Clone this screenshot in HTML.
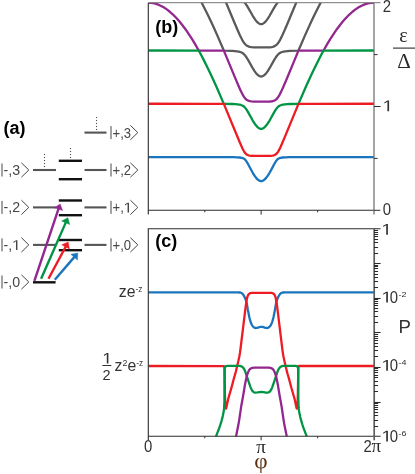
<!DOCTYPE html>
<html><head><meta charset="utf-8"><title>figure</title>
<style>html,body{margin:0;padding:0;background:#fff;}svg{display:block;will-change:transform}</style></head>
<body>
<svg width="415" height="474" viewBox="0 0 415 474">
<rect width="415" height="474" fill="#fff"/>
<defs>
<clipPath id="cb"><rect x="148.3" y="2.7" width="225.7" height="207.60000000000002"/></clipPath>
<clipPath id="cc"><rect x="148.3" y="228.8" width="225.7" height="207.5"/></clipPath>
</defs>
<g clip-path="url(#cb)">
<path d="M148.30,-1.30 L238.88,-1.29 L240.54,-0.70 L241.89,0.02 L243.24,1.04 L244.45,2.25 L245.65,3.78 L247.01,5.81 L248.36,8.09 L252.87,16.04 L254.23,18.20 L255.58,20.13 L257.09,21.91 L258.44,23.10 L259.19,23.57 L259.80,23.84 L260.55,24.04 L261.15,24.09 L261.75,24.04 L262.50,23.84 L263.11,23.57 L263.86,23.10 L265.21,21.91 L266.72,20.13 L268.07,18.20 L269.43,16.04 L273.94,8.09 L275.29,5.81 L276.65,3.78 L277.85,2.25 L279.06,1.04 L280.41,0.02 L281.76,-0.70 L283.42,-1.29 L374.00,-1.30" fill="none" stroke="#5a5a5c" stroke-width="2.3" stroke-linejoin="round"/>
<path d="M148.30,-1.30 L224.44,-1.30 L234.67,23.23 L238.13,31.31 L239.78,34.98 L241.14,37.79 L242.34,40.07 L243.55,42.07 L244.75,43.70 L245.80,44.80 L247.01,45.72 L248.21,46.35 L249.71,46.85 L251.52,47.19 L253.63,47.38 L256.34,47.44 L267.47,47.42 L269.73,47.31 L271.53,47.08 L272.59,46.85 L273.49,46.58 L274.99,45.90 L275.75,45.41 L276.35,44.93 L277.55,43.70 L278.75,42.07 L280.11,39.80 L281.61,36.88 L283.27,33.34 L287.18,24.30 L297.86,-1.30 L374.00,-1.30" fill="none" stroke="#5a5a5c" stroke-width="2.3" stroke-linejoin="round"/>
<path d="M148.30,-1.30 L199.46,-1.30 L201.57,2.55 L204.88,8.96 L207.88,15.04 L210.89,21.34 L213.90,27.85 L217.06,34.89 L223.83,50.58 L232.26,50.87 L234.82,51.04 L236.92,51.28 L238.73,51.60 L240.24,52.00 L241.59,52.55 L242.79,53.25 L243.70,53.97 L244.60,54.86 L245.50,55.96 L246.40,57.24 L248.06,59.93 L253.02,68.71 L254.53,71.07 L255.88,72.93 L257.24,74.47 L257.99,75.15 L258.59,75.60 L259.34,76.04 L259.95,76.29 L260.55,76.44 L261.15,76.49 L261.75,76.44 L262.35,76.29 L262.96,76.04 L263.71,75.60 L264.31,75.15 L265.06,74.47 L266.42,72.93 L267.77,71.07 L269.28,68.71 L274.24,59.93 L275.90,57.24 L276.80,55.96 L277.70,54.86 L278.60,53.97 L279.51,53.25 L280.71,52.55 L282.06,52.00 L283.57,51.60 L285.38,51.28 L287.48,51.04 L290.04,50.87 L298.47,50.58 L305.24,34.89 L308.40,27.85 L311.41,21.34 L314.42,15.04 L317.42,8.96 L320.73,2.55 L322.84,-1.30 L374.00,-1.30" fill="none" stroke="#5a5a5c" stroke-width="2.3" stroke-linejoin="round"/>
<path d="M148.30,2.70 L149.80,2.74 L151.31,2.88 L152.81,3.10 L154.47,3.45 L155.97,3.86 L157.48,4.36 L158.98,4.94 L160.64,5.69 L163.65,7.32 L166.81,9.40 L169.82,11.74 L172.98,14.56 L176.14,17.75 L179.30,21.30 L182.46,25.20 L185.62,29.45 L188.78,34.04 L192.09,39.19 L195.25,44.43 L198.71,50.50 L223.83,50.62 L235.57,78.85 L238.58,85.95 L240.24,89.68 L241.59,92.56 L242.79,94.89 L243.85,96.68 L244.90,98.15 L245.95,99.27 L247.01,100.06 L248.36,100.72 L249.87,101.15 L251.67,101.43 L253.93,101.59 L256.79,101.63 L267.62,101.61 L270.03,101.49 L271.83,101.27 L273.64,100.83 L274.99,100.24 L276.20,99.40 L277.40,98.15 L278.60,96.44 L279.81,94.33 L281.16,91.62 L282.82,88.00 L286.28,79.93 L298.47,50.62 L323.59,50.50 L327.05,44.43 L330.21,39.19 L333.52,34.04 L336.68,29.45 L339.84,25.20 L343.00,21.30 L346.16,17.75 L349.32,14.56 L352.48,11.74 L355.49,9.40 L358.65,7.32 L361.66,5.69 L363.32,4.94 L364.82,4.36 L366.33,3.86 L367.83,3.45 L369.49,3.10 L370.99,2.88 L372.50,2.74 L374.00,2.70" fill="none" stroke="#92278f" stroke-width="2.3" stroke-linejoin="round"/>
<path d="M148.30,50.49 L198.71,50.53 L201.57,55.82 L204.57,61.64 L207.58,67.70 L210.59,73.98 L213.60,80.47 L216.76,87.50 L223.83,103.85 L232.41,104.02 L235.27,104.16 L237.53,104.35 L239.33,104.61 L240.84,104.96 L242.19,105.46 L243.24,106.04 L244.15,106.73 L244.90,107.47 L245.65,108.38 L246.55,109.66 L248.06,112.16 L252.87,120.80 L254.38,123.20 L255.73,125.09 L257.24,126.81 L257.99,127.49 L258.59,127.94 L259.34,128.37 L259.95,128.62 L260.55,128.76 L261.15,128.81 L261.75,128.76 L262.35,128.62 L262.96,128.37 L263.71,127.94 L264.31,127.49 L265.06,126.81 L266.57,125.09 L267.92,123.20 L269.43,120.80 L274.24,112.16 L275.75,109.66 L276.65,108.38 L277.40,107.47 L278.15,106.73 L279.06,106.04 L280.11,105.46 L281.46,104.96 L282.97,104.61 L284.77,104.35 L287.03,104.16 L289.89,104.02 L298.47,103.85 L305.54,87.50 L308.70,80.47 L311.71,73.98 L314.72,67.70 L317.73,61.64 L320.73,55.82 L323.59,50.53 L374.00,50.49" fill="none" stroke="#009444" stroke-width="2.3" stroke-linejoin="round"/>
<path d="M148.30,103.76 L208.49,103.78 L221.58,103.83 L223.68,103.85 L223.83,103.89 L239.63,142.05 L242.49,148.43 L243.55,150.51 L244.45,152.05 L245.35,153.29 L246.25,154.18 L247.16,154.78 L248.36,155.26 L249.87,155.58 L251.67,155.77 L254.08,155.88 L257.39,155.91 L267.92,155.89 L270.33,155.79 L272.28,155.60 L273.94,155.26 L275.14,154.78 L276.20,154.06 L277.10,153.11 L278.15,151.57 L279.21,149.65 L280.41,147.16 L282.06,143.45 L285.38,135.61 L298.47,103.89 L298.62,103.85 L300.72,103.83 L313.81,103.78 L374.00,103.76" fill="none" stroke="#ed1c24" stroke-width="2.3" stroke-linejoin="round"/>
<path d="M148.30,157.03 L208.04,157.04 L227.45,157.10 L233.01,157.17 L236.92,157.30 L239.63,157.50 L241.59,157.80 L242.94,158.20 L244.00,158.73 L245.05,159.59 L245.95,160.67 L246.71,161.78 L247.61,163.32 L251.22,170.08 L253.02,173.28 L254.68,175.89 L256.18,177.91 L257.54,179.35 L258.74,180.28 L259.34,180.62 L259.95,180.86 L260.55,181.01 L261.15,181.06 L261.75,181.01 L262.35,180.86 L262.96,180.62 L263.56,180.28 L264.76,179.35 L266.12,177.91 L267.62,175.89 L269.28,173.28 L271.08,170.08 L274.69,163.32 L275.59,161.78 L276.35,160.67 L277.25,159.59 L278.30,158.73 L279.36,158.20 L280.71,157.80 L282.67,157.50 L285.38,157.30 L289.29,157.17 L294.85,157.10 L314.26,157.04 L374.00,157.03" fill="none" stroke="#1b75bc" stroke-width="2.3" stroke-linejoin="round"/>
</g>
<g clip-path="url(#cc)">
<path d="M148.30,292.40 L238.05,292.40 L239.56,292.50 L240.77,292.72 L241.48,293.04 L242.30,293.60 L242.81,294.10 L243.27,294.70 L243.94,295.81 L244.73,297.37 L245.44,298.98 L245.97,300.40 L246.47,302.08 L246.85,303.77 L247.80,309.46 L249.34,317.33 L250.22,320.70 L251.15,323.33 L251.68,324.47 L252.15,325.32 L252.71,326.15 L253.22,326.75 L253.77,327.25 L254.39,327.62 L255.11,327.92 L255.60,328.00 L256.34,327.96 L257.59,327.78 L259.47,327.11 L260.70,326.86 L261.45,326.80 L262.19,326.87 L263.42,327.13 L264.83,327.68 L265.31,327.80 L266.55,327.97 L267.29,328.00 L268.03,327.80 L268.91,327.33 L269.47,326.87 L270.15,326.07 L270.94,324.82 L271.68,323.24 L272.38,321.32 L273.01,319.17 L273.54,317.00 L274.14,314.05 L275.06,309.12 L276.02,303.43 L276.42,301.75 L276.95,300.07 L277.49,298.66 L278.11,297.28 L278.91,295.73 L279.59,294.61 L280.05,294.03 L280.56,293.55 L281.41,293.00 L282.12,292.69 L283.33,292.49 L284.85,292.40 L374.50,292.40" fill="none" stroke="#1b75bc" stroke-width="2.3" stroke-linejoin="round"/>
<path d="M148.30,366.00 L223.98,366.03 L224.22,366.45 L224.38,367.04 L224.53,369.96 L224.93,393.80 L225.16,401.45 L225.34,404.38 L225.56,406.78 L225.79,408.21 L225.91,408.52 L226.02,408.59 L226.26,407.94 L226.92,405.07 L227.88,400.42 L228.33,398.47 L231.54,387.43 L233.80,378.72 L235.23,373.92 L235.93,371.27 L238.47,360.56 L239.40,356.16 L239.94,352.96 L240.48,348.99 L245.79,305.56 L246.43,301.36 L246.90,298.87 L247.24,297.38 L247.77,295.77 L248.24,294.87 L248.71,294.23 L249.06,293.88 L249.86,293.38 L250.59,293.08 L251.34,292.91 L256.08,292.80 L267.59,292.80 L271.58,292.93 L272.08,293.04 L272.82,293.32 L273.46,293.67 L273.82,293.95 L274.17,294.32 L274.63,294.97 L274.98,295.65 L275.23,296.32 L275.59,297.50 L275.97,299.24 L276.51,302.21 L276.96,305.18 L278.12,314.36 L282.30,348.86 L282.87,353.07 L283.42,356.27 L284.36,360.67 L286.83,371.14 L287.54,373.79 L288.96,378.59 L291.29,387.54 L294.43,398.34 L294.90,400.29 L296.36,407.20 L296.64,408.27 L296.80,408.60 L296.91,408.49 L297.02,408.15 L297.22,406.92 L297.45,404.55 L297.63,401.62 L297.87,393.94 L298.28,369.85 L298.44,366.91 L298.63,366.32 L298.88,366.00 L374.50,366.00" fill="none" stroke="#ed1c24" stroke-width="2.3" stroke-linejoin="round"/>
<path d="M214.00,442.00 L216.50,435.19 L219.18,428.18 L220.40,424.64 L221.55,420.81 L222.34,417.91 L222.90,415.47 L223.56,412.04 L223.88,410.06 L224.08,408.32 L224.42,401.58 L224.51,392.83 L224.60,371.33 L224.68,369.30 L224.96,367.35 L225.20,366.85 L225.52,366.41 L225.87,366.17 L226.31,366.04 L227.62,365.90 L239.86,365.93 L240.61,366.10 L241.54,366.44 L242.21,366.83 L242.96,367.45 L243.43,368.01 L244.00,368.87 L244.59,369.99 L245.09,371.12 L246.58,375.65 L250.24,386.31 L250.86,387.94 L251.49,389.30 L252.23,390.68 L252.83,391.44 L253.37,391.90 L254.04,392.32 L254.53,392.52 L255.01,392.60 L257.75,392.47 L259.47,392.10 L261.46,391.90 L263.44,392.12 L265.16,392.49 L267.90,392.60 L268.38,392.49 L268.86,392.27 L269.52,391.83 L270.04,391.37 L270.49,390.80 L271.01,389.90 L271.79,388.29 L272.26,387.15 L276.18,375.78 L277.33,372.18 L277.94,370.56 L278.60,369.22 L279.28,368.13 L279.92,367.38 L280.69,366.76 L281.36,366.39 L282.06,366.14 L282.80,365.95 L283.30,365.90 L295.30,365.90 L296.35,366.01 L296.82,366.14 L297.19,366.32 L297.52,366.71 L297.87,367.46 L298.06,368.65 L298.18,370.18 L298.37,400.94 L298.66,407.44 L298.78,408.93 L299.01,410.66 L299.72,414.60 L300.25,417.04 L301.08,420.19 L302.28,424.27 L303.57,428.05 L306.25,435.06 L308.80,442.00" fill="none" stroke="#009444" stroke-width="2.3" stroke-linejoin="round"/>
<path d="M234.90,442.00 L237.89,427.30 L238.68,423.12 L239.40,418.68 L241.26,406.07 L243.09,395.98 L244.89,385.13 L246.01,379.49 L247.11,375.11 L247.81,372.96 L248.61,371.13 L249.40,369.77 L249.87,369.20 L250.20,368.90 L251.25,368.26 L251.98,367.96 L252.48,367.83 L254.45,367.65 L256.21,367.60 L267.22,367.60 L268.98,367.69 L270.45,367.86 L271.67,368.32 L272.32,368.70 L272.85,369.12 L273.33,369.67 L273.75,370.32 L274.67,372.17 L275.44,374.27 L276.25,377.18 L276.93,380.10 L277.71,384.03 L279.73,396.11 L281.52,405.95 L283.42,418.81 L284.14,423.25 L284.93,427.42 L287.90,442.00" fill="none" stroke="#92278f" stroke-width="2.3" stroke-linejoin="round"/>
</g>
<path d="M148.3,2.7 V214.60000000000002 M148.3,210.3 H374.0" stroke="#2b2b2b" stroke-width="1.1" fill="none"/>
<path d="M148.3,2.7 H380.5" stroke="#757575" stroke-width="1" fill="none"/>
<path d="M374.0,2.7 V214.60000000000002" stroke="#757575" stroke-width="1.3" fill="none"/>
<path d="M374.0,106.50 h6.6" stroke="#2b2b2b" stroke-width="1" fill="none"/>
<path d="M374.0,210.30 h6.3" stroke="#2b2b2b" stroke-width="1" fill="none"/>
<path d="M374.0,54.60 h3.6" stroke="#2b2b2b" stroke-width="1" fill="none"/>
<path d="M374.0,158.40 h3.6" stroke="#2b2b2b" stroke-width="1" fill="none"/>
<path d="M261.1,210.3 v4.3" stroke="#2b2b2b" stroke-width="1" fill="none"/>
<path d="M204.80,210.3 v2" stroke="#2b2b2b" stroke-width="1" fill="none"/>
<path d="M317.65,210.3 v2" stroke="#2b2b2b" stroke-width="1" fill="none"/>
<path d="M148.3,440.3 V228.8 H380.6" stroke="#2b2b2b" stroke-width="1.1" fill="none"/>
<path d="M148.3,436.3 H380.6" stroke="#2b2b2b" stroke-width="1.1" fill="none"/>
<path d="M374.2,228.8 V440.3" stroke="#5e5e5e" stroke-width="1.7" fill="none"/>
<path d="M374.0,253.50 h4.1" stroke="#2b2b2b" stroke-width="1" fill="none"/>
<path d="M374.0,247.50 h4.1" stroke="#2b2b2b" stroke-width="1" fill="none"/>
<path d="M374.0,242.50 h4.1" stroke="#2b2b2b" stroke-width="1" fill="none"/>
<path d="M374.0,239.50 h4.1" stroke="#2b2b2b" stroke-width="1" fill="none"/>
<path d="M374.0,236.50 h4.1" stroke="#2b2b2b" stroke-width="1" fill="none"/>
<path d="M374.0,234.50 h4.1" stroke="#2b2b2b" stroke-width="1" fill="none"/>
<path d="M374.0,232.50 h4.1" stroke="#2b2b2b" stroke-width="1" fill="none"/>
<path d="M374.0,230.50 h4.1" stroke="#2b2b2b" stroke-width="1" fill="none"/>
<path d="M374.0,263.50 h6.6" stroke="#2b2b2b" stroke-width="1.1" fill="none"/>
<path d="M374.0,287.50 h4.1" stroke="#2b2b2b" stroke-width="1" fill="none"/>
<path d="M374.0,281.50 h4.1" stroke="#2b2b2b" stroke-width="1" fill="none"/>
<path d="M374.0,277.50 h4.1" stroke="#2b2b2b" stroke-width="1" fill="none"/>
<path d="M374.0,274.50 h4.1" stroke="#2b2b2b" stroke-width="1" fill="none"/>
<path d="M374.0,271.50 h4.1" stroke="#2b2b2b" stroke-width="1" fill="none"/>
<path d="M374.0,268.50 h4.1" stroke="#2b2b2b" stroke-width="1" fill="none"/>
<path d="M374.0,266.50 h4.1" stroke="#2b2b2b" stroke-width="1" fill="none"/>
<path d="M374.0,265.50 h4.1" stroke="#2b2b2b" stroke-width="1" fill="none"/>
<path d="M374.0,298.50 h6.6" stroke="#2b2b2b" stroke-width="1.1" fill="none"/>
<path d="M374.0,322.50 h4.1" stroke="#2b2b2b" stroke-width="1" fill="none"/>
<path d="M374.0,316.50 h4.1" stroke="#2b2b2b" stroke-width="1" fill="none"/>
<path d="M374.0,311.50 h4.1" stroke="#2b2b2b" stroke-width="1" fill="none"/>
<path d="M374.0,308.50 h4.1" stroke="#2b2b2b" stroke-width="1" fill="none"/>
<path d="M374.0,305.50 h4.1" stroke="#2b2b2b" stroke-width="1" fill="none"/>
<path d="M374.0,303.50 h4.1" stroke="#2b2b2b" stroke-width="1" fill="none"/>
<path d="M374.0,301.50 h4.1" stroke="#2b2b2b" stroke-width="1" fill="none"/>
<path d="M374.0,299.50 h4.1" stroke="#2b2b2b" stroke-width="1" fill="none"/>
<path d="M374.0,332.50 h6.6" stroke="#2b2b2b" stroke-width="1.1" fill="none"/>
<path d="M374.0,356.50 h4.1" stroke="#2b2b2b" stroke-width="1" fill="none"/>
<path d="M374.0,350.50 h4.1" stroke="#2b2b2b" stroke-width="1" fill="none"/>
<path d="M374.0,346.50 h4.1" stroke="#2b2b2b" stroke-width="1" fill="none"/>
<path d="M374.0,343.50 h4.1" stroke="#2b2b2b" stroke-width="1" fill="none"/>
<path d="M374.0,340.50 h4.1" stroke="#2b2b2b" stroke-width="1" fill="none"/>
<path d="M374.0,338.50 h4.1" stroke="#2b2b2b" stroke-width="1" fill="none"/>
<path d="M374.0,336.50 h4.1" stroke="#2b2b2b" stroke-width="1" fill="none"/>
<path d="M374.0,334.50 h4.1" stroke="#2b2b2b" stroke-width="1" fill="none"/>
<path d="M374.0,367.50 h6.6" stroke="#2b2b2b" stroke-width="1.1" fill="none"/>
<path d="M374.0,391.50 h4.1" stroke="#2b2b2b" stroke-width="1" fill="none"/>
<path d="M374.0,385.50 h4.1" stroke="#2b2b2b" stroke-width="1" fill="none"/>
<path d="M374.0,381.50 h4.1" stroke="#2b2b2b" stroke-width="1" fill="none"/>
<path d="M374.0,377.50 h4.1" stroke="#2b2b2b" stroke-width="1" fill="none"/>
<path d="M374.0,375.50 h4.1" stroke="#2b2b2b" stroke-width="1" fill="none"/>
<path d="M374.0,372.50 h4.1" stroke="#2b2b2b" stroke-width="1" fill="none"/>
<path d="M374.0,370.50 h4.1" stroke="#2b2b2b" stroke-width="1" fill="none"/>
<path d="M374.0,368.50 h4.1" stroke="#2b2b2b" stroke-width="1" fill="none"/>
<path d="M374.0,402.50 h6.6" stroke="#2b2b2b" stroke-width="1.1" fill="none"/>
<path d="M374.0,426.50 h4.1" stroke="#2b2b2b" stroke-width="1" fill="none"/>
<path d="M374.0,420.50 h4.1" stroke="#2b2b2b" stroke-width="1" fill="none"/>
<path d="M374.0,415.50 h4.1" stroke="#2b2b2b" stroke-width="1" fill="none"/>
<path d="M374.0,412.50 h4.1" stroke="#2b2b2b" stroke-width="1" fill="none"/>
<path d="M374.0,409.50 h4.1" stroke="#2b2b2b" stroke-width="1" fill="none"/>
<path d="M374.0,407.50 h4.1" stroke="#2b2b2b" stroke-width="1" fill="none"/>
<path d="M374.0,405.50 h4.1" stroke="#2b2b2b" stroke-width="1" fill="none"/>
<path d="M374.0,403.50 h4.1" stroke="#2b2b2b" stroke-width="1" fill="none"/>
<path d="M261.1,436.3 v4" stroke="#2b2b2b" stroke-width="1" fill="none"/>
<path d="M204.80,436.3 v2" stroke="#2b2b2b" stroke-width="1" fill="none"/>
<path d="M317.65,436.3 v2" stroke="#2b2b2b" stroke-width="1" fill="none"/>
<text transform="translate(382.80 11.50) scale(0.95 1.0)" font-family="Liberation Sans, sans-serif" font-size="15.7" fill="#333333">2</text>
<path d="M387.41,111.30 L387.41,101.82 L384.41,103.56 L384.41,102.25 L387.55,100.50 L389.11,100.50 L389.11,111.30Z" fill="#333333"/>
<text transform="translate(382.70 214.70) scale(0.95 1.0)" font-family="Liberation Sans, sans-serif" font-size="15.7" fill="#333333">0</text>
<path d="M386.21,234.70 L386.21,225.22 L383.21,226.96 L383.21,225.65 L386.35,223.90 L387.91,223.90 L387.91,234.70Z" fill="#333333"/>
<path d="M386.21,302.50 L386.21,293.02 L383.21,294.76 L383.21,293.45 L386.35,291.70 L387.91,291.70 L387.91,302.50Z" fill="#333333"/>
<text transform="translate(389.70 302.50) scale(0.95 1.0)" font-family="Liberation Sans, sans-serif" font-size="15.7" fill="#333333">0</text>
<text transform="translate(398.50 297.20) scale(1.12 1.0)" font-family="Liberation Sans, sans-serif" font-size="8.0" fill="#333333">-2</text>
<path d="M386.21,370.70 L386.21,361.22 L383.21,362.96 L383.21,361.65 L386.35,359.90 L387.91,359.90 L387.91,370.70Z" fill="#333333"/>
<text transform="translate(389.70 370.70) scale(0.95 1.0)" font-family="Liberation Sans, sans-serif" font-size="15.7" fill="#333333">0</text>
<text transform="translate(398.50 365.40) scale(1.12 1.0)" font-family="Liberation Sans, sans-serif" font-size="8.0" fill="#333333">-4</text>
<path d="M386.21,441.50 L386.21,432.02 L383.21,433.76 L383.21,432.45 L386.35,430.70 L387.91,430.70 L387.91,441.50Z" fill="#333333"/>
<text transform="translate(389.70 441.50) scale(0.95 1.0)" font-family="Liberation Sans, sans-serif" font-size="15.7" fill="#333333">0</text>
<text transform="translate(398.50 436.20) scale(1.12 1.0)" font-family="Liberation Sans, sans-serif" font-size="8.0" fill="#333333">-6</text>
<text x="398.40" y="332.70" font-family="Liberation Sans, sans-serif" font-size="18.6" fill="#333333">P</text>
<text transform="translate(143.90 451.90) scale(0.95 1.0)" font-family="Liberation Sans, sans-serif" font-size="15.7" fill="#333333">0</text>
<text transform="translate(363.50 452.00) scale(0.95 1.0)" font-family="Liberation Sans, sans-serif" font-size="15.7" fill="#333333">2</text>
<text transform="translate(371.40 452.30) scale(1.06 1.0)" font-family="Liberation Serif, serif" font-size="18" fill="#2a2a2a">π</text>
<text transform="translate(256.30 452.50) scale(1.06 1.0)" font-family="Liberation Serif, serif" font-size="18" fill="#2a2a2a">π</text>
<text transform="translate(254.30 467.60) scale(1.13 1.0)" font-family="Liberation Serif, serif" font-size="20.5" fill="#5b2d0e">φ</text>
<text x="399.30" y="42.00" font-family="Liberation Serif, serif" font-size="20" fill="#2a2a2a">ε</text>
<path d="M393,48.1 H416" stroke="#2a2a2a" stroke-width="1.1"/>
<text transform="translate(397.20 67.50) scale(1.03 1.0)" font-family="Liberation Serif, serif" font-size="20.5" fill="#2a2a2a">Δ</text>
<text x="3.60" y="133.60" font-family="Liberation Sans, sans-serif" font-size="18" fill="#000" font-weight="bold">(a)</text>
<text x="155.30" y="32.90" font-family="Liberation Sans, sans-serif" font-size="18" fill="#000" font-weight="bold">(b)</text>
<text x="155.30" y="247.20" font-family="Liberation Sans, sans-serif" font-size="18" fill="#000" font-weight="bold">(c)</text>
<text x="118.80" y="296.70" font-family="Liberation Sans, sans-serif" font-size="15.8" fill="#333333">ze<tspan dy="-5" font-size="8.3">-z</tspan></text>
<text x="114.60" y="370.70" font-family="Liberation Sans, sans-serif" font-size="15.8" fill="#333333">z<tspan dy="-4.4" font-size="8.8">2</tspan><tspan dy="4.4" font-size="15.8">e</tspan><tspan dy="-5" font-size="8.3">-z</tspan></text>
<path d="M106.79,363.50 L106.79,354.32 L103.95,356.00 L103.95,354.74 L106.92,353.04 L108.40,353.04 L108.40,363.50Z" fill="#333333"/>
<text transform="translate(102.60 380.10) scale(0.97 1.0)" font-family="Liberation Sans, sans-serif" font-size="15.0" fill="#333333">2</text>
<path d="M102.4,365.5 H111.3" stroke="#333333" stroke-width="1"/>
<path d="M33,244.9 H56" stroke="#555" stroke-width="2.1"/>
<path d="M33,207.4 H56" stroke="#555" stroke-width="2.1"/>
<path d="M33,170.0 H56" stroke="#555" stroke-width="2.1"/>
<path d="M84.5,244.9 H106.5" stroke="#555" stroke-width="2.1"/>
<path d="M84.5,207.4 H106.5" stroke="#555" stroke-width="2.1"/>
<path d="M84.5,170.0 H106.5" stroke="#555" stroke-width="2.1"/>
<path d="M84.5,132.6 H106.5" stroke="#555" stroke-width="2.1"/>
<path d="M33,282.3 H55.6" stroke="#111" stroke-width="2.4"/>
<path d="M58.8,250.2 H82" stroke="#111" stroke-width="2.4"/>
<path d="M58.8,240.0 H82" stroke="#111" stroke-width="2.4"/>
<path d="M58.8,215.2 H82" stroke="#111" stroke-width="2.4"/>
<path d="M58.8,200.5 H82" stroke="#111" stroke-width="2.4"/>
<path d="M58.8,179.2 H82" stroke="#111" stroke-width="2.4"/>
<path d="M58.8,160.8 H82" stroke="#111" stroke-width="2.4"/>
<rect x="43.95" y="153.95" width="1.1" height="1.1" fill="#4a4a4a"/>
<rect x="43.95" y="156.95" width="1.1" height="1.1" fill="#4a4a4a"/>
<rect x="43.95" y="159.95" width="1.1" height="1.1" fill="#4a4a4a"/>
<rect x="43.95" y="162.95" width="1.1" height="1.1" fill="#4a4a4a"/>
<rect x="43.95" y="165.95" width="1.1" height="1.1" fill="#4a4a4a"/>
<rect x="69.95" y="147.95" width="1.1" height="1.1" fill="#4a4a4a"/>
<rect x="69.95" y="150.95" width="1.1" height="1.1" fill="#4a4a4a"/>
<rect x="69.95" y="153.95" width="1.1" height="1.1" fill="#4a4a4a"/>
<rect x="69.95" y="156.95" width="1.1" height="1.1" fill="#4a4a4a"/>
<rect x="95.95" y="116.95" width="1.1" height="1.1" fill="#4a4a4a"/>
<rect x="95.95" y="119.95" width="1.1" height="1.1" fill="#4a4a4a"/>
<rect x="95.95" y="122.95" width="1.1" height="1.1" fill="#4a4a4a"/>
<rect x="95.95" y="125.95" width="1.1" height="1.1" fill="#4a4a4a"/>
<rect x="95.95" y="128.95" width="1.1" height="1.1" fill="#4a4a4a"/>
<path d="M2.0,275.5 V288.5" stroke="#464646" stroke-width="1" fill="none"/>
<text x="3.60" y="287.00" font-family="Liberation Sans, sans-serif" font-size="14.2" fill="#464646">-,0</text>
<path d="M21.4,274.8 L28.8,282 L21.4,289.2" stroke="#464646" stroke-width="1" fill="none" stroke-linejoin="miter"/>
<path d="M2.0,238.4 V251.4" stroke="#464646" stroke-width="1" fill="none"/>
<text x="3.60" y="249.90" font-family="Liberation Sans, sans-serif" font-size="14.2" fill="#464646">-,</text>
<path d="M15.98,249.90 L15.98,241.32 L13.44,242.90 L13.44,241.72 L16.10,240.13 L17.42,240.13 L17.42,249.90Z" fill="#464646"/>
<path d="M21.4,237.70000000000002 L28.8,244.9 L21.4,252.1" stroke="#464646" stroke-width="1" fill="none" stroke-linejoin="miter"/>
<path d="M2.0,200.9 V213.9" stroke="#464646" stroke-width="1" fill="none"/>
<text x="3.60" y="212.40" font-family="Liberation Sans, sans-serif" font-size="14.2" fill="#464646">-,2</text>
<path d="M21.4,200.20000000000002 L28.8,207.4 L21.4,214.6" stroke="#464646" stroke-width="1" fill="none" stroke-linejoin="miter"/>
<path d="M2.0,163.5 V176.5" stroke="#464646" stroke-width="1" fill="none"/>
<text x="3.60" y="175.00" font-family="Liberation Sans, sans-serif" font-size="14.2" fill="#464646">-,3</text>
<path d="M21.4,162.8 L28.8,170.0 L21.4,177.2" stroke="#464646" stroke-width="1" fill="none" stroke-linejoin="miter"/>
<path d="M111.0,238.4 V251.4" stroke="#464646" stroke-width="1" fill="none"/>
<text transform="translate(112.60 249.90) scale(0.92 1.0)" font-family="Liberation Sans, sans-serif" font-size="14.2" fill="#464646">+,0</text>
<path d="M130.4,237.70000000000002 L137.8,244.9 L130.4,252.1" stroke="#464646" stroke-width="1" fill="none" stroke-linejoin="miter"/>
<path d="M111.0,200.9 V213.9" stroke="#464646" stroke-width="1" fill="none"/>
<text transform="translate(112.60 212.40) scale(0.92 1.0)" font-family="Liberation Sans, sans-serif" font-size="14.2" fill="#464646">+,</text>
<path d="M127.57,212.40 L127.57,203.82 L125.03,205.40 L125.03,204.22 L127.68,202.63 L129.01,202.63 L129.01,212.40Z" fill="#464646"/>
<path d="M130.4,200.20000000000002 L137.8,207.4 L130.4,214.6" stroke="#464646" stroke-width="1" fill="none" stroke-linejoin="miter"/>
<path d="M111.0,163.5 V176.5" stroke="#464646" stroke-width="1" fill="none"/>
<text transform="translate(112.60 175.00) scale(0.92 1.0)" font-family="Liberation Sans, sans-serif" font-size="14.2" fill="#464646">+,2</text>
<path d="M130.4,162.8 L137.8,170.0 L130.4,177.2" stroke="#464646" stroke-width="1" fill="none" stroke-linejoin="miter"/>
<path d="M111.0,126.1 V139.1" stroke="#464646" stroke-width="1" fill="none"/>
<text transform="translate(112.60 137.60) scale(0.92 1.0)" font-family="Liberation Sans, sans-serif" font-size="14.2" fill="#464646">+,3</text>
<path d="M130.4,125.39999999999999 L137.8,132.6 L130.4,139.79999999999998" stroke="#464646" stroke-width="1" fill="none" stroke-linejoin="miter"/>
<path d="M54.80,279.70 L74.47,256.86" stroke="#1b75bc" stroke-width="2.4" fill="none"/><path d="M77.80,253.00 L77.48,260.11 L70.81,254.37 Z" fill="#1b75bc" stroke="#1b75bc" stroke-width="0.4" stroke-linejoin="round"/>
<path d="M48.50,278.70 L65.79,246.49" stroke="#ed1c24" stroke-width="2.4" fill="none"/><path d="M68.20,242.00 L69.43,249.02 L61.67,244.85 Z" fill="#ed1c24" stroke="#ed1c24" stroke-width="0.4" stroke-linejoin="round"/>
<path d="M41.10,278.70 L65.85,222.37" stroke="#009444" stroke-width="2.4" fill="none"/><path d="M67.90,217.70 L69.68,224.60 L61.62,221.06 Z" fill="#009444" stroke="#009444" stroke-width="0.4" stroke-linejoin="round"/>
<path d="M34.40,280.80 L58.58,208.74" stroke="#92278f" stroke-width="2.4" fill="none"/><path d="M60.20,203.90 L62.59,210.61 L54.25,207.81 Z" fill="#92278f" stroke="#92278f" stroke-width="0.4" stroke-linejoin="round"/>
</svg>
</body></html>
